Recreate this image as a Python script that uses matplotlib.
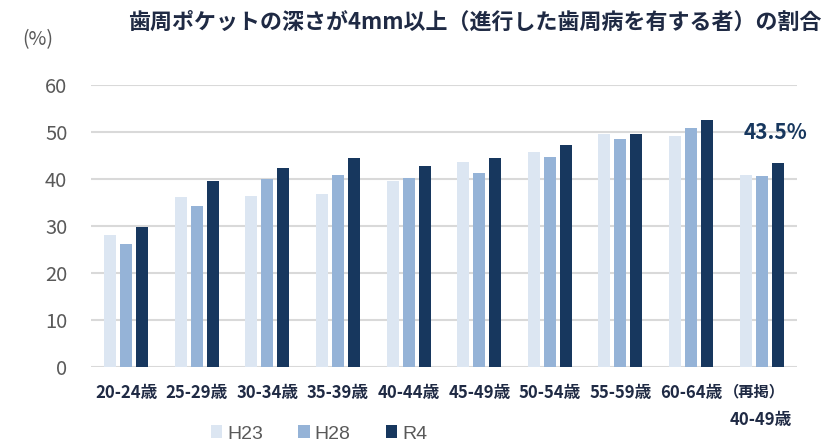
import matplotlib
matplotlib.use('Agg')
import matplotlib.pyplot as plt
from matplotlib.transforms import blended_transform_factory
import numpy as np

plt.rcParams['font.family'] = ['Noto Sans CJK JP', 'DejaVu Sans']

# data
categories = ['20-24歳', '25-29歳', '30-34歳', '35-39歳', '40-44歳',
              '45-49歳', '50-54歳', '55-59歳', '60-64歳', '40-49歳']
h23 = [28.1, 36.1, 36.4, 36.7, 39.5, 43.6, 45.8, 49.6, 49.1, 40.9]
h28 = [26.1, 34.3, 40.1, 40.9, 40.3, 41.3, 44.7, 48.5, 50.9, 40.7]
r4 = [29.7, 39.5, 42.3, 44.5, 42.8, 44.4, 47.2, 49.5, 52.5, 43.5]
series_names = ['H23', 'H28', 'R4']
colors = ['#dce6f2', '#95b3d7', '#17375e']

fig = plt.figure(figsize=(8.3, 4.43), dpi=100)
ax = fig.add_axes([0.1096, 0.1716, 0.8506, 0.6366])

x = np.arange(len(categories))
step = 0.227
width = 0.17
for i, (vals, name, c) in enumerate(zip([h23, h28, r4], series_names, colors)):
    ax.bar(x + (i - 1) * step, vals, width, color=c, label=name, zorder=3)

ax.set_xlim(-0.5, len(categories) - 0.5)
ax.set_ylim(0, 60)
ax.set_yticks(range(0, 61, 10))
ax.grid(axis='y', color='#d9d9d9', linewidth=1.5, zorder=0)
for s in ax.spines.values():
    s.set_visible(False)
ax.tick_params(axis='y', length=0, pad=17, labelsize=14.5, labelcolor='#595959')
ax.tick_params(axis='x', length=0, pad=12)

text_col = '#1f2a44'
ax.set_xticks(x[:-1])
ax.set_xticklabels(categories[:-1], fontsize=12, fontweight='bold', color=text_col)

# last category label split over two lines
tr = blended_transform_factory(ax.transData, fig.transFigure)
ax.text(8.89, 1 - 391 / 443, '（再掲）', transform=tr, ha='center', va='center',
        fontsize=11, fontweight='bold', color=text_col)
ax.text(8.99, 1 - 420 / 443, categories[-1], transform=tr, ha='center', va='center',
        fontsize=12, fontweight='bold', color=text_col)

# highlight label
ax.text(9.2, 49.9, f'{r4[-1]}%', ha='center', va='center', fontsize=15,
        fontweight='bold', color='#17375e')

fig.text(128 / 830, 1 - 22 / 443, '歯周ポケットの深さが4mm以上（進行した歯周病を有する者）の割合',
         ha='left', va='center', fontsize=15.8, fontweight='bold', color=text_col)
fig.text(38 / 830, 1 - 40 / 443, '(%)', ha='center', va='center', fontsize=14, color='#595959')

leg = fig.legend(loc='center', bbox_to_anchor=(319 / 830, 1 - 434 / 443), ncol=3,
                 frameon=False, handlelength=0.6, handleheight=0.6,
                 handletextpad=0.25, columnspacing=1.8, labelcolor='#595959',
                 prop={'family': ['Liberation Sans', 'DejaVu Sans'], 'size': 14})

fig.savefig('out.png', dpi=100)
